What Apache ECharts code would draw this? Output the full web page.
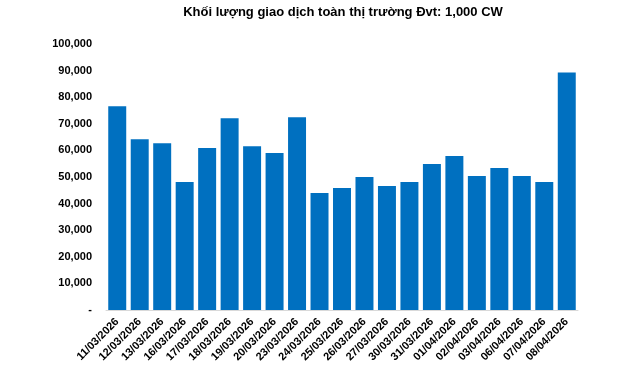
<!DOCTYPE html>
<html><head><meta charset="utf-8">
<script src="https://cdn.jsdelivr.net/npm/echarts@6/dist/echarts.min.js"></script>
<style>html,body{margin:0;padding:0;background:#fff}#c{width:640px;height:371px}</style>
</head><body><div id="c"></div>
<script>
const titleText = "Khối lượng giao dịch toàn thị trường Đvt: 1,000 CW";
const categories = ["11/03/2026","12/03/2026","13/03/2026","16/03/2026","17/03/2026","18/03/2026","19/03/2026","20/03/2026","23/03/2026","24/03/2026","25/03/2026","26/03/2026","27/03/2026","30/03/2026","31/03/2026","01/04/2026","02/04/2026","03/04/2026","06/04/2026","07/04/2026","08/04/2026"];
const volumes = [76600,64200,62700,48100,60900,72100,61600,59000,72500,44000,45900,50000,46600,48100,54900,57900,50400,53400,50400,48100,89300];
const yTicks = [0,10000,20000,30000,40000,50000,60000,70000,80000,90000,100000];

const chart = echarts.init(document.getElementById('c'), null, {renderer:'canvas'});
chart.setOption({
  animation:false,
  backgroundColor:'#fff',
  title:{text:titleText,left:338,textAlign:'center',top:1,textStyle:{fontFamily:'Liberation Sans, Arial',fontSize:13,fontWeight:'bold',color:'#000'}},
  grid:{left:106,right:62,top:44,bottom:61},
  xAxis:{type:'category',data:categories,
    axisLine:{lineStyle:{color:'#d9d9d9',width:1}},
    axisTick:{show:false},
    axisLabel:{rotate:45,interval:0,fontFamily:'Liberation Sans, Arial',fontSize:11,fontWeight:'bold',color:'#000',margin:10}},
  yAxis:{type:'value',min:yTicks[0],max:yTicks[yTicks.length-1],interval:yTicks[1]-yTicks[0],
    splitLine:{show:false},axisLine:{show:false},axisTick:{show:false},
    axisLabel:{fontFamily:'Liberation Sans, Arial',fontSize:11,fontWeight:'bold',color:'#000',margin:14,
      formatter:v=> v===0?'-':v.toLocaleString('en-US')}},
  series:[{type:'bar',data:volumes,barCategoryGap:'20%',itemStyle:{color:'#0070C0'}}]
});
</script></body></html>
